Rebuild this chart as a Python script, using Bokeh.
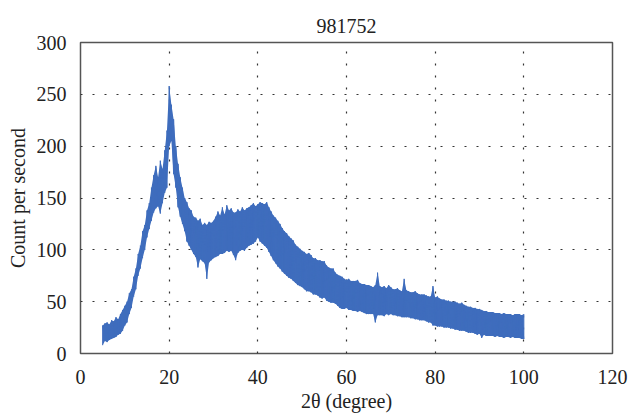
import numpy as np
from bokeh.plotting import figure
from bokeh.models import Range1d, FixedTicker
from bokeh.embed import file_html
from bokeh.resources import INLINE

# 2-theta positions (degree), every half degree from 5 to 100
two_theta = [5 + 0.5 * i for i in range(191)]
# upper / lower edge of the noisy trace (counts per second)
upper = [27, 29, 30, 28, 32, 31, 35, 33, 38, 42,
         46, 50, 58, 62, 74, 82, 96, 104, 118, 124,
         138, 145, 160, 172, 181, 170, 186, 178, 196, 215,
         258, 240, 226, 200, 183, 170, 160, 150, 146, 140,
         138, 132, 131, 128, 130, 124, 126, 124, 127, 126,
         128, 132, 137, 133, 141, 134, 143, 138, 140, 136,
         136, 139, 137, 141, 138, 140, 141, 143, 145, 142,
         144, 146, 145, 144, 146, 141, 137, 133, 131, 128,
         125, 121, 118, 116, 113, 111, 109, 105, 103, 101,
         99, 98, 96, 97, 95, 92, 92, 90, 90, 89,
         89, 85, 83, 82, 82, 78, 76, 75, 74, 72,
         71, 72, 70, 70, 70, 71, 68, 67, 67, 66,
         66, 65, 64, 66, 78, 65, 64, 65, 63, 66,
         64, 62, 62, 63, 61, 60, 72, 61, 60, 59,
         59, 60, 58, 57, 57, 57, 56, 55, 55, 65,
         54, 55, 53, 52, 52, 51, 51, 50, 50, 50,
         49, 48, 49, 47, 46, 45, 45, 44, 44, 43,
         43, 42, 41, 41, 40, 40, 40, 39, 39, 39,
         38, 39, 38, 38, 38, 37, 38, 38, 38, 37,
         38]
lower = [8, 12, 11, 13, 14, 15, 16, 18, 19, 22,
         27, 30, 38, 44, 55, 62, 75, 82, 92, 100,
         112, 120, 128, 136, 140, 142, 135, 145, 155, 160,
         200, 205, 173, 160, 141, 132, 125, 118, 108, 104,
         100, 96, 93, 83, 91, 89, 87, 72, 88, 90,
         92, 93, 94, 96, 96, 97, 99, 98, 99, 95,
         90, 97, 99, 100, 99, 102, 104, 105, 106, 108,
         112, 108, 106, 104, 102, 98, 94, 90, 87, 84,
         82, 79, 77, 75, 73, 72, 70, 68, 66, 65,
         64, 62, 60, 60, 59, 57, 57, 56, 54, 53,
         54, 51, 50, 49, 49, 48, 46, 44, 43, 43,
         44, 42, 42, 41, 41, 40, 41, 40, 39, 38,
         38, 38, 38, 30, 37, 37, 37, 36, 38, 37,
         38, 37, 37, 36, 36, 35, 35, 35, 35, 34,
         34, 33, 33, 32, 32, 32, 31, 30, 30, 27,
         27, 26, 26, 26, 25, 25, 25, 24, 24, 23,
         23, 22, 22, 22, 21, 20, 20, 20, 19, 18,
         19, 15, 18, 17, 17, 17, 17, 16, 17, 16,
         16, 15, 16, 16, 15, 16, 15, 15, 15, 14,
         14]

x_ticks = [0, 20, 40, 60, 80, 100, 120]
y_ticks = [0, 50, 100, 150, 200, 250, 300]
title_text = "981752"

BLUE = "#3f6dbd"
FONT = "Liberation Serif"

p = figure(frame_width=532, frame_height=311, output_backend="svg", toolbar_location=None,
           x_range=Range1d(0, 120), y_range=Range1d(0, 300),
           min_border_left=80, min_border_right=16, min_border_top=42, min_border_bottom=61,
           title=title_text)
p.title.align = "center"
p.title.vertical_align = "middle"
p.title.text_font = FONT
p.title.text_font_size = "20px"
p.title.text_font_style = "normal"
p.title.text_color = "#222222"
p.title.standoff = 17

# band + vertical noise strokes
p.varea(x=two_theta, y1=lower, y2=upper, fill_color=BLUE, fill_alpha=1.0)
zx = np.repeat(two_theta, 2)
zy = np.ravel(np.column_stack([lower, upper]))
p.line(zx, zy, line_color=BLUE, line_width=1.0)

p.outline_line_color = "#555555"
p.outline_line_width = 1.5

for ax in (p.xaxis[0], p.yaxis[0]):
    ax.axis_line_color = None
    ax.major_tick_line_color = None
    ax.minor_tick_line_color = None
    ax.major_label_text_font = FONT
    ax.major_label_text_font_size = "20px"
    ax.major_label_text_color = "#222222"
    ax.axis_label_text_font = FONT
    ax.axis_label_text_font_size = "20px"
    ax.axis_label_text_font_style = "normal"
    ax.axis_label_text_color = "#222222"

p.xaxis.ticker = FixedTicker(ticks=x_ticks)
p.yaxis.ticker = FixedTicker(ticks=y_ticks)
p.xaxis.major_label_standoff = 10
p.yaxis.major_label_standoff = 8
p.xaxis.axis_label = "2θ (degree)"
p.yaxis.axis_label = "Count per second"
p.xaxis.axis_label_standoff = 3
p.yaxis.axis_label_standoff = 5

for g in (p.xgrid[0], p.ygrid[0]):
    g.grid_line_color = "#333333"
    g.grid_line_dash = "2 10"
    g.grid_line_width = 1.2

open("out.html", "w").write(file_html(p, INLINE))
